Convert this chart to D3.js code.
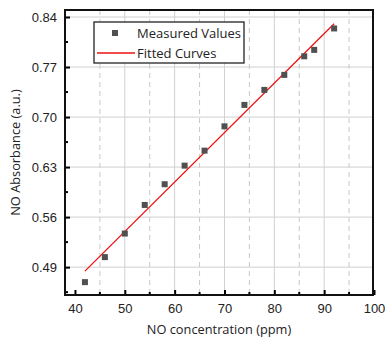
<!DOCTYPE html>
<html>
<head>
<meta charset="utf-8">
<script src="https://cdn.jsdelivr.net/npm/d3@7"></script>
<style>
  body { margin: 0; background: #fff; }
  svg { font-family: "Open Sans", sans-serif; }
</style>
</head>
<body>
<svg id="chart" width="385" height="340"></svg>
<script>
// measured points
const concentration = [42, 46, 50, 54, 58, 62, 66, 70, 74, 78, 82, 86, 88, 92];
const absorbance = [0.469, 0.504, 0.537, 0.577, 0.606, 0.632, 0.653, 0.687, 0.717, 0.738, 0.759, 0.785, 0.794, 0.824];

// fitted line end points
const fitX = [42, 92];
const fitY = [0.4844, 0.8306];

const xTicks = [40, 50, 60, 70, 80, 90, 100];
const xMinor = [45, 55, 65, 75, 85, 95];
const yTicks = [0.49, 0.56, 0.63, 0.70, 0.77, 0.84];
const yMinor = [0.455, 0.525, 0.595, 0.665, 0.735, 0.805];

const legendLabels = ['Measured Values', 'Fitted Curves'];

const margin = { top: 10, right: 12, bottom: 45, left: 65 };
const width = 385, height = 340;

const svg = d3.select('#chart');

const x = d3.scaleLinear().domain([38, 99.8]).range([margin.left, width - margin.right]);
const y = d3.scaleLinear().domain([0.451, 0.8498]).range([height - margin.bottom, margin.top]);

const plotTop = margin.top, plotBottom = height - margin.bottom;
const plotLeft = margin.left, plotRight = width - margin.right;

// grid lines
svg.append('g').selectAll('line')
    .data(xTicks.filter(d => d > 40 && d < 100))
    .enter().append('line')
    .attr('x1', d => x(d)).attr('x2', d => x(d))
    .attr('y1', plotTop).attr('y2', plotBottom)
    .attr('stroke', '#d0d0d0').attr('stroke-width', 1);

svg.append('g').selectAll('line')
    .data(xMinor)
    .enter().append('line')
    .attr('x1', d => x(d)).attr('x2', d => x(d))
    .attr('y1', plotTop).attr('y2', plotBottom)
    .attr('stroke', '#c8c8c8').attr('stroke-width', 1)
    .attr('stroke-dasharray', '5,4');

svg.append('g').selectAll('line')
    .data(yTicks)
    .enter().append('line')
    .attr('x1', plotLeft).attr('x2', plotRight)
    .attr('y1', d => y(d)).attr('y2', d => y(d))
    .attr('stroke', '#d0d0d0').attr('stroke-width', 1);

// axes with inward ticks
const xAxis = svg.append('g')
    .attr('transform', `translate(0,${plotBottom})`)
    .call(d3.axisBottom(x).tickValues(xTicks).tickSizeInner(-5).tickSizeOuter(0).tickPadding(9));
const yAxis = svg.append('g')
    .attr('transform', `translate(${plotLeft},0)`)
    .call(d3.axisLeft(y).tickValues(yTicks).tickFormat(d3.format('.2f')).tickSizeInner(-5).tickSizeOuter(0).tickPadding(8));

[xAxis, yAxis].forEach(a => {
    a.select('.domain').remove();
    a.selectAll('line').attr('stroke', '#000').attr('stroke-width', 2);
    a.selectAll('text').attr('fill', '#222').style('font-size', '13px');
});

svg.append('g').selectAll('line')
    .data(xMinor)
    .enter().append('line')
    .attr('x1', d => x(d)).attr('x2', d => x(d))
    .attr('y1', plotBottom).attr('y2', plotBottom - 3)
    .attr('stroke', '#000').attr('stroke-width', 2);

svg.append('g').selectAll('line')
    .data(yMinor)
    .enter().append('line')
    .attr('x1', plotLeft).attr('x2', plotLeft + 3)
    .attr('y1', d => y(d)).attr('y2', d => y(d))
    .attr('stroke', '#000').attr('stroke-width', 2);

// frame
svg.append('rect')
    .attr('x', plotLeft).attr('y', plotTop)
    .attr('width', plotRight - plotLeft).attr('height', plotBottom - plotTop)
    .attr('fill', 'none').attr('stroke', '#111').attr('stroke-width', 2);

// fitted line
svg.append('line')
    .attr('x1', x(fitX[0])).attr('y1', y(fitY[0]))
    .attr('x2', x(fitX[1])).attr('y2', y(fitY[1]))
    .attr('stroke', '#ee1111').attr('stroke-width', 1.3);

// measured squares
svg.append('g').selectAll('rect')
    .data(concentration.map((c, i) => [c, absorbance[i]]))
    .enter().append('rect')
    .attr('x', d => x(d[0]) - 3).attr('y', d => y(d[1]) - 3)
    .attr('width', 6).attr('height', 6)
    .attr('fill', '#505050');

// legend
const legend = svg.append('g');
legend.append('rect')
    .attr('x', 94).attr('y', 22).attr('width', 150).attr('height', 41)
    .attr('fill', '#fff').attr('stroke', '#222').attr('stroke-width', 1.3);
legend.append('rect')
    .attr('x', 112).attr('y', 30).attr('width', 6).attr('height', 6)
    .attr('fill', '#505050');
legend.append('line')
    .attr('x1', 97).attr('x2', 135).attr('y1', 53).attr('y2', 53)
    .attr('stroke', '#ee1111').attr('stroke-width', 1.3);
legend.selectAll('text')
    .data(legendLabels)
    .enter().append('text')
    .attr('x', 137).attr('y', (d, i) => 33 + i * 20)
    .attr('dy', '0.35em')
    .attr('fill', '#222')
    .style('font-size', '13px')
    .text(d => d);

// axis titles
svg.append('text')
    .attr('x', (plotLeft + plotRight) / 2).attr('y', 334)
    .attr('text-anchor', 'middle').attr('fill', '#222')
    .style('font-size', '12.8px')
    .text('NO concentration (ppm)');

svg.append('text')
    .attr('transform', `translate(20,${(plotTop + plotBottom) / 2}) rotate(-90)`)
    .attr('text-anchor', 'middle').attr('fill', '#222')
    .style('font-size', '12.8px')
    .text('NO Absorbance (a.u.)');
</script>
</body>
</html>
